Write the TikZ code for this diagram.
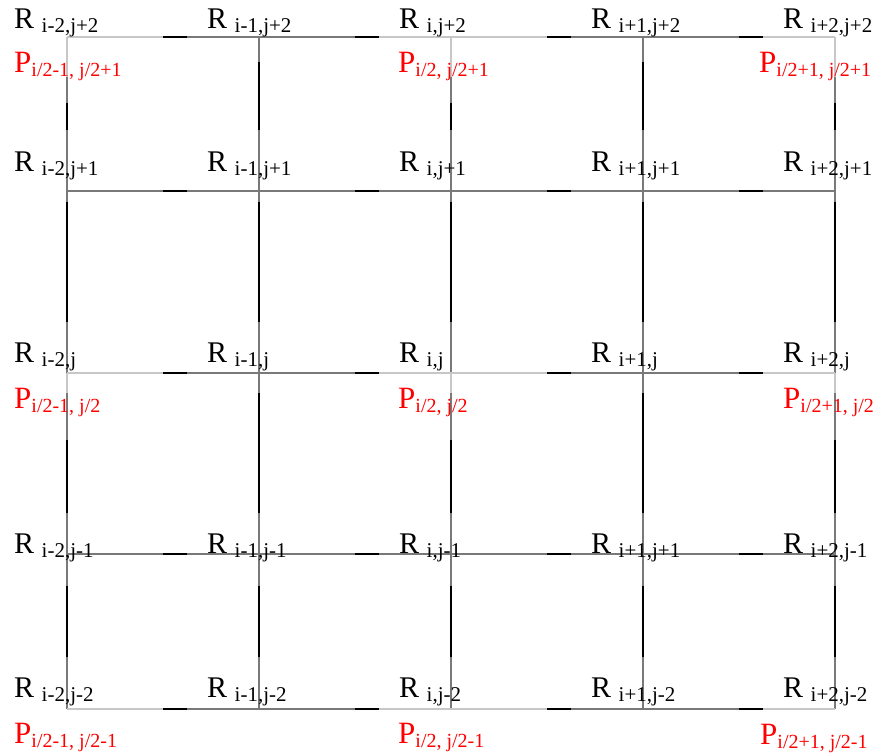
\documentclass[tikz,border=0pt]{standalone}
\usepackage{fontspec}
\setmainfont{Liberation Serif}
\newcommand{\rsubfont}{\fontsize{21}{21}\selectfont}
\newcommand{\psubfont}{\fontsize{20}{20}\selectfont}
\newcommand{\Rbig}{\fontsize{30}{30}\selectfont}
\newcommand{\Pbig}{\fontsize{31}{31}\selectfont}
\newcommand{\Rlab}[4]{\node[rlab] (#1) at (#2,#3) {\Rbig R\ \raisebox{-4pt}{\rsubfont #4}};}
\newcommand{\Plab}[4]{\node[plab] (#1) at (#2,#3) {\Pbig P\raisebox{-4pt}{\psubfont #4}};}
\tikzset{
  gridline/.style={draw=gray!95!black, line width=1.2pt},
  lightline/.style={draw=black!22, line width=1.2pt},
  blackseg/.style={draw=black, line width=2pt},
  rlab/.style={anchor=base west, inner sep=0pt, text=black},
  plab/.style={anchor=base west, inner sep=0pt, text=red},
}
\begin{document}
\begin{tikzpicture}[x=1pt,y=-1pt]
\useasboundingbox (0,0) rectangle (879,755);
% grid coordinates
\foreach \c/\xx in {0/67,1/259,2/451,3/643,4/835}{
  \foreach \r/\yy in {0/37,1/191,2/373,3/554,4/709}{
    \coordinate (g\c\r) at (\xx,\yy);
  }
}
% gray grid lines
\foreach \r in {0,...,4}{ \draw[gridline] (g0\r) -- (g4\r); }
\foreach \c in {0,...,4}{ \draw[gridline] (g\c0) -- (g\c4); }
% light parts near P points
\foreach \r in {0,2,4}{
  \draw[lightline] (g0\r) -- ++(96,0);
  \draw[lightline] (g2\r) ++(-72,0) -- ++(168,0);
  \draw[lightline] (g4\r) -- ++(-72,0);
}
\foreach \c in {0,2,4}{
  \draw[lightline] (g\c0) -- ++(0,40);
  \draw[lightline] (g\c2) -- ++(0,20);
}
% black horizontal dashes
\foreach \r in {0,...,4}{
  \foreach \c in {0,...,3}{
    \draw[blackseg] (g\c\r) ++(96,0) -- ++(24,0);
  }
}
% black vertical dashes
\foreach \c in {0,2,4}{
  \draw[blackseg] (g\c0) ++(0,66) -- ++(0,27);
  \draw[blackseg] (g\c2) ++(0,67) -- ++(0,73);
}
\foreach \c in {1,3}{
  \draw[blackseg] (g\c0) ++(0,25) -- ++(0,68);
  \draw[blackseg] (g\c2) ++(0,20) -- ++(0,120);
}
\foreach \c in {0,...,4}{
  \draw[blackseg] (g\c1) ++(0,11) -- ++(0,120);
  \draw[blackseg] (g\c3) ++(0,32) -- ++(0,71);
}
% R labels
\Rlab{r00}{14}{28}{i-2,j+2}
\Rlab{r10}{207}{28}{i-1,j+2}
\Rlab{r20}{399}{28}{i,j+2}
\Rlab{r30}{591}{28}{i+1,j+2}
\Rlab{r40}{783}{28}{i+2,j+2}
\Rlab{r01}{14}{171}{i-2,j+1}
\Rlab{r11}{207}{171}{i-1,j+1}
\Rlab{r21}{399}{171}{i,j+1}
\Rlab{r31}{591}{171}{i+1,j+1}
\Rlab{r41}{783}{171}{i+2,j+1}
\Rlab{r02}{14}{362}{i-2,j}
\Rlab{r12}{207}{362}{i-1,j}
\Rlab{r22}{399}{362}{i,j}
\Rlab{r32}{591}{362}{i+1,j}
\Rlab{r42}{783}{362}{i+2,j}
\Rlab{r03}{14}{553}{i-2,j-1}
\Rlab{r13}{207}{553}{i-1,j-1}
\Rlab{r23}{399}{553}{i,j-1}
\Rlab{r33}{591}{553}{i+1,j+1}
\Rlab{r43}{783}{553}{i+2,j-1}
\Rlab{r04}{14}{697}{i-2,j-2}
\Rlab{r14}{207}{697}{i-1,j-2}
\Rlab{r24}{399}{697}{i,j-2}
\Rlab{r34}{591}{697}{i+1,j-2}
\Rlab{r44}{783}{697}{i+2,j-2}
% P labels
\Plab{p00}{14}{72}{i/2-1, j/2+1}
\Plab{p10}{398}{72}{i/2, j/2+1}
\Plab{p20}{759}{72}{i/2+1, j/2+1}
\Plab{p01}{14}{408}{i/2-1, j/2}
\Plab{p11}{398}{408}{i/2, j/2}
\Plab{p21}{783}{408}{i/2+1, j/2}
\Plab{p02}{14}{743}{i/2-1, j/2-1}
\Plab{p12}{398}{743}{i/2, j/2-1}
\Plab{p22}{760}{744}{i/2+1, j/2-1}
\end{tikzpicture}
\end{document}
